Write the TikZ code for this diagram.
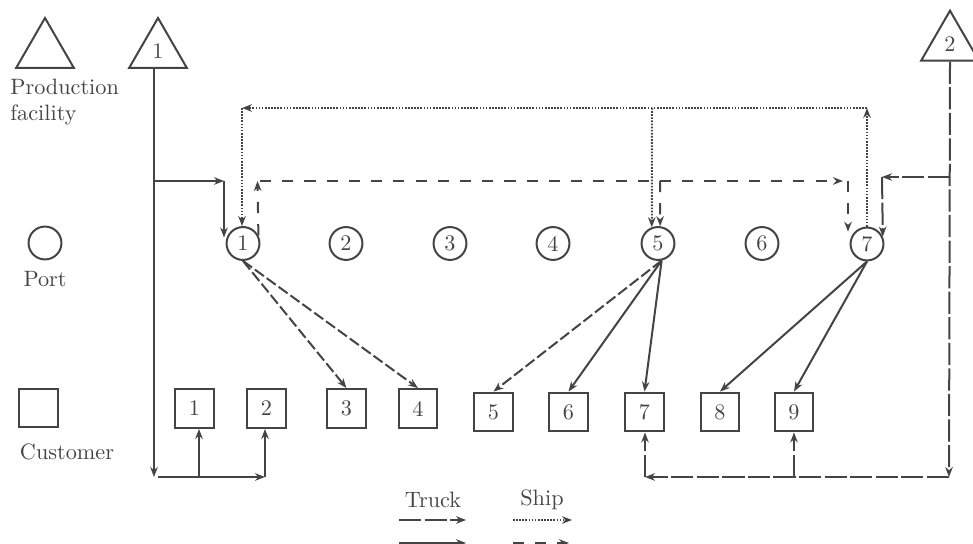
\documentclass[tikz,border=0pt]{standalone}
\usetikzlibrary{arrows.meta,shapes.geometric}
\definecolor{ink}{HTML}{444444}
\begin{document}
\begin{tikzpicture}[x=0.45pt,y=-0.45pt,
  every node/.style={text=ink},
  plant/.style={draw=ink,line width=0.9pt,regular polygon,regular polygon sides=3,minimum size=30pt,inner sep=0pt},
  port/.style={draw=ink,line width=0.9pt,circle,minimum size=14.8pt,inner sep=0pt},
  cust/.style={draw=ink,line width=0.9pt,rectangle,minimum size=17.5pt,inner sep=0pt},
  conn/.style={draw=ink,line width=0.9pt,-{Stealth[length=4.5pt,width=3.4pt]}},
  truckA/.style={conn,dash pattern=on 10pt off 1.5pt},
  truckS/.style={conn,dash pattern=on 5pt off 1.6pt},
  truckB/.style={conn},
  shipdot/.style={conn,dash pattern=on 0.75pt off 0.65pt},
  shipdash/.style={conn,dash pattern=on 5pt off 5pt},
  lbl/.style={inner sep=0pt}
]
\useasboundingbox (0,0) rectangle (973,544);
\clip (0,0) rectangle (973,544);

% legend (left)
\node[plant] (LP) at (45,51.3) {};
\node[lbl,align=left,anchor=west] (LPt) at (10,102) {Production\\facility};
\node[port] (LO) at (45,243) {};
\node[lbl] (LOt) at (45,279) {Port};
\node[cust] (LC) at (38.5,408) {};
\node[lbl] (LCt) at (67,452) {Customer};

% plants
\node[plant] (P1) at (158,51.3) {1};
\node[plant] (P2) at (950,44) {2};

% ports
\node[port] (O1) at (243,243.5) {1};
\node[port] (O2) at (346,243.5) {2};
\node[port] (O3) at (450,243.5) {3};
\node[port] (O4) at (553,243.5) {4};
\node[port] (O5) at (658,243.5) {5};
\node[port] (O6) at (762,243.5) {6};
\node[port] (O7) at (867,244) {7};

% customers
\node[cust] (C1) at (194.5,408.5) {1};
\node[cust] (C2) at (266.5,408.5) {2};
\node[cust] (C3) at (346.5,408.5) {3};
\node[cust] (C4) at (418,408.5) {4};
\node[cust] (C5) at (493.5,412) {5};
\node[cust] (C6) at (568.5,412) {6};
\node[cust] (C7) at (644.5,412) {7};
\node[cust] (C8) at (720,412) {8};
\node[cust] (C9) at (794,412) {9};

% plant 1 network (truck, solid)
\coordinate (j1) at (154,181);
\coordinate (k1) at (224,181);
\coordinate (b1) at (154,477);
\coordinate (b1s) at (158,477);
\coordinate (b2) at (265,477);
\coordinate (b3) at (199,477);
\draw[truckB] (P1.south -| j1) -- (b1);
\draw[truckB] (j1) -- (k1);
\draw[truckB] (k1) -- (k1 |- O1.160);
\draw[truckB] (b1s) -- (b2);
\draw[truckB] (b2) -- (b2 |- C2.south);
\draw[truckB] (b3) -- (b3 |- C1.south);

% plant 2 network (truck, long dash)
\coordinate (j2) at (950,177);
\coordinate (k2) at (882,177);
\coordinate (e2) at (949,477);
\coordinate (f2) at (645,477);
\coordinate (g2) at (794,477);
\draw[truckA] (P2.south) -- (e2);
\draw[truckA] (e2) -- (f2);
\draw[truckA] (f2) -- (f2 |- C7.south);
\draw[truckA] (g2) -- (g2 |- C9.south);
\draw[truckA] (j2) -- (k2);
\draw[truckA] (k2) -- (O7.25);

% ship, dotted
\coordinate (d7) at (867,108);
\coordinate (d1) at (242,108);
\coordinate (d5) at (652,108);
\draw[shipdot] (O7.north) -- (d7);
\draw[shipdot] (d7) -- (d1);
\draw[shipdot] (d1) -- (d1 |- O1.north);
\draw[shipdot] (d5) -- (O5.111);

% ship, dashed
\coordinate (s1) at (257.5,181);
\coordinate (s1b) at (260,181);
\coordinate (s7) at (843,181);
\coordinate (s7b) at (848,181);
\coordinate (s5) at (660,181);
\draw[shipdash] (O1.28) -- (s1);
\draw[shipdash] (s1b) -- (s7);
\draw[shipdash] (s7b) -- (s7b |- O7.north west);
\draw[shipdash] (s5) -- (O5.83);

% port to customer
\draw[truckS] (O1.south) -- (C3.north);
\draw[truckS] (O1.south) -- (C4.north);
\draw[truckS] (O5.-78) -- (C5.north);
\draw[truckB] (O5.-78) -- (C6.north);
\draw[truckB] (O5.-78) -- (C7.north);
\draw[truckB] (O7.south) -- (C8.north);
\draw[truckB] (O7.south) -- (C9.north);

% legend (bottom)
\node[lbl] (TL) at (433,500) {Truck};
\node[lbl] (SL) at (542,500) {Ship};
\coordinate (ta1) at (399,520); \coordinate (ta2) at (466,520);
\coordinate (tb1) at (399,543); \coordinate (tb2) at (466,543);
\coordinate (sa1) at (513,520); \coordinate (sa2) at (572,520);
\coordinate (sb1) at (513,543); \coordinate (sb2) at (569,543);
\draw[truckA] (ta1) -- (ta2);
\draw[truckB] (tb1) -- (tb2);
\draw[shipdot] (sa1) -- (sa2);
\draw[shipdash] (sb1) -- (sb2);
\end{tikzpicture}
\end{document}
